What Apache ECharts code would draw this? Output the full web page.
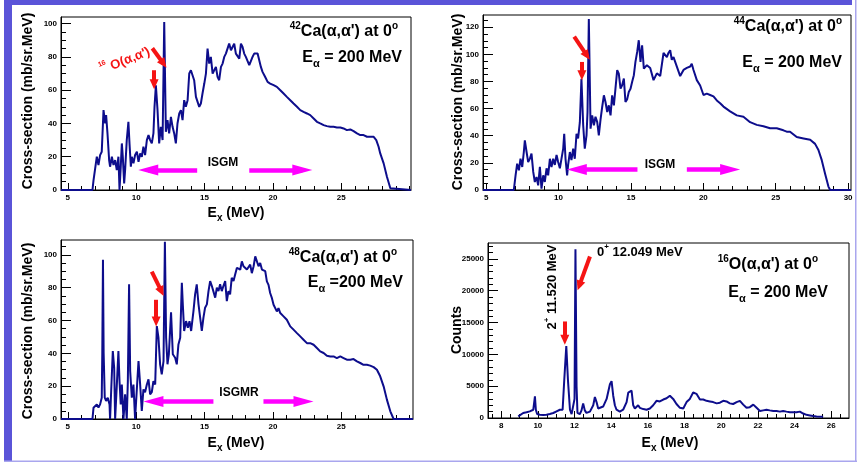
<!DOCTYPE html>
<html><head><meta charset="utf-8">
<script src="https://cdn.jsdelivr.net/npm/echarts@6/dist/echarts.min.js"></script>
<style>html,body{margin:0;padding:0;background:#fff}#c{width:862px;height:463px}</style>
</head><body><div id="c"></div>
<script>
// ---------- DATA: [Ex (MeV), value] ----------
const ca42 = [[4.5,0],[6.8,0],[6.88,6],[7.0,7],[7.12,20],[7.24,15],[7.36,21],[7.48,23],[7.61,48],[7.73,40],[7.8,45],[7.9,34],[8.02,18],[8.09,14],[8.22,20],[8.34,15],[8.46,18],[8.58,12],[8.7,20],[8.78,0],[8.87,14],[8.95,28],[9.02,20],[9.12,4],[9.19,12],[9.31,30],[9.43,41],[9.51,28],[9.61,14],[9.68,20],[9.8,16],[9.92,21],[10.05,23],[10.17,17],[10.29,22],[10.41,20],[10.53,26],[10.65,21],[10.78,30],[10.9,33],[11.02,30],[11.14,28],[11.26,34],[11.34,50],[11.44,63],[11.56,48],[11.68,28],[11.8,38],[11.93,30],[12.05,101],[12.17,35],[12.29,42],[12.41,34],[12.54,44],[12.66,38],[12.78,34],[12.9,28],[13.02,40],[13.15,46],[13.27,48],[13.39,42],[13.51,54],[13.63,50],[13.76,54],[13.88,70],[14.0,72],[14.12,73],[14.24,66],[14.37,56],[14.49,57],[14.61,50],[14.73,52],[14.85,58],[14.98,64],[15.1,70],[15.22,85],[15.34,76],[15.46,80],[15.59,70],[15.71,71],[15.83,74],[15.95,68],[16.07,66],[16.2,74],[16.32,76],[16.44,80],[16.56,82],[16.68,85],[16.8,88],[16.93,84],[17.05,86],[17.17,88],[17.29,82],[17.41,81],[17.54,79],[17.66,88],[17.78,86],[17.9,82],[18.02,80],[18.15,79],[18.27,75],[18.39,74],[18.51,80],[18.63,82],[18.76,81],[18.88,82],[19.0,78],[19.12,74],[19.24,71],[19.37,69],[19.49,67],[19.61,65],[19.8,64],[20.05,63],[20.29,62],[20.54,60],[20.78,58],[21.02,56],[21.27,54],[21.51,52],[21.76,50],[22.0,48],[22.24,47],[22.49,46],[22.73,45],[22.98,43],[23.22,41],[23.46,40],[23.71,39],[23.95,38.4],[24.2,38],[24.44,38],[24.68,37.6],[24.93,37.6],[25.17,37],[25.41,36],[25.66,36.4],[25.9,35.4],[26.15,34],[26.39,33],[26.63,33],[26.88,32],[27.12,32],[27.37,32],[27.56,30],[27.73,26],[27.85,22],[28.1,16],[28.34,8],[28.59,1],[28.71,0],[30.1,0]];

const ca44 = [[4.78,0],[6.91,0],[7.03,10.8],[7.14,19.4],[7.26,14.5],[7.37,23.1],[7.49,17],[7.6,28],[7.67,36.6],[7.79,28],[7.9,20.6],[8.02,23.1],[8.13,26.8],[8.25,13.3],[8.36,5.9],[8.48,9.6],[8.59,3.4],[8.71,17],[8.82,1],[8.94,10.8],[9.05,5.9],[9.17,16],[9.28,10.8],[9.4,23],[9.51,17],[9.63,23],[9.74,18.5],[9.86,25.8],[9.97,20.6],[10.09,16],[10.2,23],[10.32,30.5],[10.39,41.5],[10.48,23],[10.59,10.8],[10.66,18.5],[10.78,28],[10.89,22],[11.01,30.5],[11.12,23],[11.24,41.5],[11.35,38],[11.47,50],[11.58,82],[11.7,47.7],[11.81,30.5],[11.93,40.3],[12.0,57.5],[12.09,126],[12.21,45.2],[12.32,55],[12.44,47.7],[12.55,54],[12.67,50],[12.78,40.3],[12.9,52],[13.01,61],[13.13,69.8],[13.24,64.9],[13.36,57.5],[13.47,62.4],[13.59,55],[13.7,69.8],[13.82,62.4],[13.93,74.7],[14.05,88.3],[14.16,85.8],[14.28,74.7],[14.39,77.2],[14.51,82.1],[14.62,64.9],[14.74,67],[14.85,72.3],[14.97,74.7],[15.08,79.6],[15.2,84.6],[15.31,94.4],[15.43,101.8],[15.54,110.4],[15.66,94.4],[15.77,106.7],[15.89,89.5],[16.1,92],[16.33,90],[16.56,81],[16.79,86],[17.02,84],[17.25,101],[17.36,102],[17.48,98],[17.59,101],[17.71,103],[17.82,96],[17.94,98],[18.17,91],[18.4,84],[18.63,88.5],[18.86,90],[19.09,91],[19.2,93],[19.32,88.5],[19.55,81],[19.78,77],[20.01,70],[20.24,71],[20.47,70],[20.7,69],[20.93,66],[21.16,64],[21.39,61.5],[21.85,58],[22.31,55],[22.77,54],[23.23,50],[23.69,48],[24.15,47],[24.61,45.5],[25.07,45.5],[25.53,44],[25.76,43],[25.99,43],[26.45,39],[26.92,38],[27.38,37],[27.72,34],[27.95,29.5],[28.18,22],[28.41,12],[28.64,2.5],[28.76,0],[30.2,0]];

const ca48 = [[4.5,0],[6.8,0],[6.88,6.9],[7.0,5.9],[7.12,8.9],[7.24,6.9],[7.36,8.9],[7.48,13],[7.52,40],[7.57,97],[7.62,40],[7.7,13],[7.8,11],[7.92,13],[8.05,8.9],[8.09,0],[8.17,17],[8.29,41.4],[8.39,31.2],[8.46,0],[8.58,20],[8.7,41.4],[8.78,23],[8.87,8.9],[8.95,21],[9.07,0],[9.19,15],[9.31,0],[9.39,23],[9.48,82],[9.56,29.2],[9.68,13],[9.8,21],[9.92,0],[10.05,18.6],[10.17,35.3],[10.29,21],[10.41,4.9],[10.53,18],[10.65,16.3],[10.78,21],[10.9,24.1],[11.02,15],[11.14,16.3],[11.26,23],[11.39,21],[11.51,56.6],[11.63,49.5],[11.75,33.3],[11.87,27.2],[12.0,35.3],[12.1,108],[12.19,49.5],[12.29,33.3],[12.39,39.4],[12.55,65],[12.68,39.4],[12.85,37.3],[12.97,33.3],[13.09,45.4],[13.22,49.5],[13.34,83],[13.41,69.8],[13.51,53.6],[13.65,59.6],[13.78,55.6],[13.9,59.6],[14.02,53.6],[14.19,65.7],[14.31,75.9],[14.43,82],[14.56,69.8],[14.68,61.7],[14.8,53.6],[14.92,61.7],[15.04,67.8],[15.17,69.8],[15.29,77.9],[15.41,84],[15.53,81.1],[15.65,82],[15.78,73.9],[15.9,80],[16.02,77.9],[16.14,82],[16.26,77.9],[16.38,81],[16.51,84],[16.63,71.8],[16.75,77.9],[16.87,75.9],[16.99,86],[17.12,84],[17.24,88],[17.37,92.1],[17.61,90.9],[17.73,96],[17.85,93],[18.1,91],[18.34,94],[18.46,88.8],[18.59,93],[18.71,99],[18.83,98],[18.95,93],[19.07,95],[19.2,91],[19.32,92],[19.44,90],[19.56,83.8],[19.68,81.7],[19.8,76.7],[19.93,73.6],[20.05,69.6],[20.17,68.6],[20.29,65.5],[20.41,67.5],[20.54,64.5],[20.78,62.5],[20.9,63],[21.02,60.4],[21.27,56.4],[21.51,54.4],[21.76,52.3],[22.0,50.3],[22.24,48.3],[22.49,46.2],[22.73,46.2],[22.98,45.2],[23.22,43.2],[23.46,41.2],[23.71,40.2],[23.95,38.5],[24.2,38.1],[24.44,38.1],[24.68,37.1],[24.93,38.1],[25.17,37.1],[25.41,36.1],[25.66,36.1],[25.9,36.5],[26.15,35.1],[26.39,34.1],[26.63,33],[26.88,33],[27.12,32.5],[27.37,31.6],[27.61,30],[27.85,26],[28.1,19.9],[28.34,11.8],[28.59,4.7],[28.83,0],[30.25,0]];

const o16 = [[8.93,260],[9.2,785],[9.38,900],[9.56,1046],[9.65,900],[9.75,1300],[9.84,3400],[9.89,1300],[9.96,630],[10.11,520],[10.29,470],[10.47,520],[10.65,630],[10.84,785],[11.02,1046],[11.11,900],[11.2,1300],[11.35,1300],[11.44,6000],[11.55,11300],[11.64,6000],[11.75,1300],[11.84,600],[11.93,500],[12.0,3000],[12.05,26500],[12.11,5000],[12.16,800],[12.29,600],[12.38,1200],[12.47,2300],[12.56,1200],[12.65,800],[12.84,1000],[13.02,2000],[13.11,3300],[13.2,2500],[13.29,1500],[13.38,1300],[13.56,1800],[13.75,3000],[13.93,5300],[14.02,5800],[14.11,3500],[14.2,2000],[14.29,1300],[14.47,1000],[14.65,1300],[14.84,2500],[14.93,4000],[15.02,4200],[15.11,4300],[15.2,2000],[15.29,1500],[15.38,1600],[15.47,2000],[15.56,1600],[15.75,1400],[15.93,1300],[16.11,1500],[16.29,2000],[16.47,2700],[16.56,3000],[16.65,2600],[16.84,2900],[17.02,3100],[17.2,3500],[17.29,3400],[17.38,3000],[17.56,2200],[17.75,1600],[17.93,1500],[18.11,2500],[18.29,3000],[18.47,4000],[18.56,4200],[18.65,3800],[18.84,2900],[19.02,2900],[19.2,2700],[19.38,2600],[19.56,2500],[19.75,2300],[19.93,2400],[20.11,2700],[20.29,2600],[20.47,2300],[20.65,2200],[20.84,2500],[21.02,2700],[21.2,2100],[21.38,1600],[21.56,1700],[21.75,2100],[21.93,1600],[22.11,1100],[22.29,1200],[22.47,1300],[22.65,1200],[22.84,1100],[23.02,1100],[23.2,1000],[23.38,1100],[23.56,1000],[23.75,900],[23.93,900],[24.11,900],[24.29,1000],[24.47,700],[24.65,500],[24.84,400],[25.02,300],[25.2,250],[25.56,200]];

// tick labels
const xLab1 = [5,10,15,20,25];
const xLab2 = [5,10,15,20,25,30];
const xLab3 = [5,10,15,20,25];
const xLab4 = [8,10,12,14,16,18,20,22,24,26];
const yLab1 = [0,20,40,60,80,100];
const yLab2 = [0,20,40,60,80,100,120];
const yLab3 = [0,20,40,60,80,100];
const yLab4 = [0,5000,10000,15000,20000,25000];

// ---------- STYLE / LAYOUT ----------
const FONT = "'Liberation Sans', Arial, Helvetica, sans-serif";
const NAVY = '#0d0d8c';
const MAG = '#ff00ff';
const RED = '#f51414';

function steps(a, b, s) { const r = []; for (let v = a; v <= b + 1e-9; v += s) r.push(+v.toFixed(4)); return r; }

const panels = [
  { data: ca42, grid: {left:61, top:17, width:350, height:173}, x:[4.5,30.1], y:[0,104], xl:xLab1, yl:yLab1, xm:steps(5,30,1), ym:steps(0,104,5) },
  { data: ca44, grid: {left:483, top:15, width:368, height:175}, x:[4.78,30.2], y:[0,129], xl:xLab2, yl:yLab2, xm:steps(5,30,1), ym:steps(0,125,5) },
  { data: ca48, grid: {left:61, top:240, width:352, height:179}, x:[4.5,30.25], y:[0,109], xl:xLab3, yl:yLab3, xm:steps(5,30,1), ym:steps(0,105,5) },
  { data: o16,  grid: {left:488, top:243, width:361, height:175}, x:[7.28,26.97], y:[0,27500], xl:xLab4, yl:yLab4, xm:steps(7.5,26.5,0.5), ym:steps(0,27000,1000) },
];

const grid = [], xAxis = [], yAxis = [], series = [];
const lblStyle = { fontSize: 8, fontWeight: 'bold', color: '#000', fontFamily: FONT, formatter: v => String(v) };

panels.forEach((p, i) => {
  grid.push(Object.assign({ show: true, borderColor: '#000', borderWidth: 1, backgroundColor: 'rgba(0,0,0,0)', containLabel: false, outerBoundsMode: 'none' }, p.grid));
  xAxis.push({ type:'value', gridIndex:i, min:p.x[0], max:p.x[1], position:'bottom',
    axisLine:{ show:true, onZero:false, lineStyle:{ color:'#000', width:1 } },
    axisTick:{ show:true, inside:true, length:7, customValues:p.xl, lineStyle:{ color:'#000' } },
    axisLabel:Object.assign({ show:true, customValues:p.xl, margin:4 }, lblStyle),
    splitLine:{ show:false } });
  xAxis.push({ type:'value', gridIndex:i, min:p.x[0], max:p.x[1], position:'bottom',
    axisLine:{ show:false, onZero:false },
    axisTick:{ show:true, inside:true, length:4, customValues:p.xm, lineStyle:{ color:'#000' } },
    axisLabel:{ show:false }, splitLine:{ show:false } });
  yAxis.push({ type:'value', gridIndex:i, min:p.y[0], max:p.y[1], position:'left',
    axisLine:{ show:true, onZero:false, lineStyle:{ color:'#000', width:1 } },
    axisTick:{ show:true, inside:true, length:10, customValues:p.yl, lineStyle:{ color:'#000' } },
    axisLabel:Object.assign({ show:true, customValues:p.yl, margin:4 }, lblStyle),
    splitLine:{ show:false } });
  yAxis.push({ type:'value', gridIndex:i, min:p.y[0], max:p.y[1], position:'left',
    axisLine:{ show:false, onZero:false },
    axisTick:{ show:true, inside:true, length:5, customValues:p.ym, lineStyle:{ color:'#000' } },
    axisLabel:{ show:false }, splitLine:{ show:false } });
});

// arrows (data coordinates): [panel, x1,y1, x2,y2, color, width, headW, headL]
const arrows = [
  [0, 14.46,12, 10.88,12, MAG, 4.5, 11, 20],
  [0, 18.27,12, 22.15,12, MAG, 4.5, 11, 20],
  [0, 11.31,72, 11.31,63.6, RED, 4, 9, 10],
  [0, 11.18,85.2, 12.0,75.9, RED, 4, 9, 10],
  [1, 15.45,15.2, 11.26,15.2, MAG, 4.5, 11, 20],
  [1, 18.86,15.2, 21.85,15.2, MAG, 4.5, 11, 20],
  [1, 11.61,94.4, 11.61,84.6, RED, 4, 9, 10],
  [1, 11.08,113, 11.96,99.1, RED, 4, 9, 10],
  [2, 15.65,10.7, 11.26,10.7, MAG, 4.5, 11, 20],
  [2, 19.31,10.7, 22.24,10.7, MAG, 4.5, 11, 20],
  [2, 11.46,72.6, 11.46,59.4, RED, 4, 9, 10],
  [2, 11.14,89.8, 11.85,77.7, RED, 4, 9, 10],
  [3, 11.47,15170, 11.47,12300, RED, 4, 9, 10],
  [3, 12.84,25370, 12.26,20800, RED, 4, 9, 10],
];

panels.forEach((p, i) => {
  const ml = arrows.filter(a => a[0] === i).map(a => [
    { coord:[a[1], a[2]], symbol:'none', lineStyle:{ color:a[5], width:a[6], type:'solid' } },
    { coord:[a[3], a[4]], symbol:'triangle', symbolSize:[a[7], a[8]], lineStyle:{ color:a[5], width:a[6], type:'solid' } }
  ]);
  series.push({ type:'line', xAxisIndex:2*i, yAxisIndex:2*i, data:p.data, showSymbol:false, symbol:'none',
    lineStyle:{ color:NAVY, width:2 }, itemStyle:{ color:NAVY }, animation:false, silent:true, z:3,
    markLine:{ silent:true, animation:false, label:{ show:false }, emphasis:{ disabled:true }, symbol:['none','triangle'], data:ml } });
});

// ---------- TEXT ----------
function rich(sz) {
  return {
    n:{ fontSize:sz, fontWeight:'bold', fontFamily:FONT, lineHeight:sz+6, fill:'#000' },
    sup:{ fontSize:Math.round(sz*0.62), fontWeight:'bold', fontFamily:FONT, lineHeight:Math.round(sz*0.62)+1, verticalAlign:'top', fill:'#000' },
    sub:{ fontSize:Math.round(sz*0.68), fontWeight:'bold', fontFamily:FONT, lineHeight:Math.round(sz*0.68)+1, verticalAlign:'bottom', fill:'#000' },
    r:{ fontSize:sz, fontWeight:'bold', fontFamily:FONT, lineHeight:sz+6, fill:RED },
    rs:{ fontSize:Math.round(sz*0.55), fontWeight:'bold', fontFamily:FONT, lineHeight:Math.round(sz*0.55)+1, verticalAlign:'top', fill:RED }
  };
}
function T(x, y, text, sz, align, rot) {
  return { type:'text', x:x, y:y, rotation:rot || 0, z:10, silent:true,
    style:{ text:text, rich:rich(sz), align:align || 'center', verticalAlign:'middle', textAlign:align || 'center', textVerticalAlign:'middle', fontSize:sz, fontWeight:'bold', fontFamily:FONT, fill:'#000' } };
}
const YT = 'Cross-section (mb/sr.MeV)';
const XT = '{n|E}{sub|x}{n| (MeV)}';
const EA = '{n|E}{sub|α}{n| = 200 MeV}';

const graphic = [
  { type:'rect', shape:{ x:4, y:0, width:8, height:461 }, style:{ fill:'#5a54d8' }, silent:true },
  { type:'rect', shape:{ x:4, y:0, width:848, height:5 }, style:{ fill:'#5a54d8' }, silent:true },
  { type:'rect', shape:{ x:855, y:0, width:1.5, height:462 }, style:{ fill:'#a9a6ee' }, silent:true },
  { type:'rect', shape:{ x:4, y:460.5, width:853, height:1.5 }, style:{ fill:'#a9a6ee' }, silent:true },
  // panel 1
  T(398, 32, '{sup|42}{n|Ca(α,α\') at 0}{sup|o}', 16, 'right'),
  T(402, 58, EA, 16, 'right'),
  T(223, 163, '{n|ISGM}', 12),
  T(125, 61, '{rs|16}{r| O(α,α\')}', 13, 'center', 0.38),
  T(236, 213, XT, 14),
  T(28, 101, '{n|' + YT + '}', 14, 'center', Math.PI / 2),
  // panel 2
  T(842, 27, '{sup|44}{n|Ca(α,α\') at 0}{sup|o}', 16, 'right'),
  T(842, 63, EA, 16, 'right'),
  T(660, 165, '{n|ISGM}', 12),
  T(458, 102, '{n|' + YT + '}', 14, 'center', Math.PI / 2),
  // panel 3
  T(397, 258, '{sup|48}{n|Ca(α,α\') at 0}{sup|o}', 16, 'right'),
  T(403, 283, '{n|E}{sub|α}{n| =200 MeV}', 16, 'right'),
  T(239, 393, '{n|ISGMR}', 12),
  T(236, 443, XT, 14),
  T(28, 331, '{n|' + YT + '}', 14, 'center', Math.PI / 2),
  // panel 4
  T(818, 265, '{sup|16}{n|O(α,α\') at 0}{sup|o}', 16, 'right'),
  T(828, 293, EA, 16, 'right'),
  T(597, 252, '{n|0}{sup|+}{n| 12.049 MeV}', 13, 'left'),
  T(552, 287, '{n|2}{sup|+}{n| 11.520 MeV}', 13, 'center', Math.PI / 2),
  T(670, 443, XT, 14),
  T(457, 330, '{n|Counts}', 14, 'center', Math.PI / 2),
];

const chart = echarts.init(document.getElementById('c'), null, { renderer:'canvas' });
chart.setOption({ animation:false, backgroundColor:'#fff', grid, xAxis, yAxis, series, graphic });
</script></body></html>
